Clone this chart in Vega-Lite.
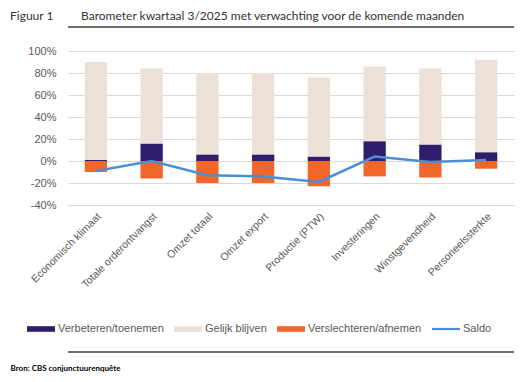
{
  "$schema": "https://vega.github.io/schema/vega-lite/v6.json",
  "autosize": "none",
  "width": 446,
  "height": 154,
  "padding": {"left": 68, "top": 51, "right": 18, "bottom": 177},
  "background": "white",
  "title": {
    "text": "Figuur 1\u00a0\u00a0\u00a0\u00a0\u00a0\u00a0\u00a0\u00a0\u00a0Barometer kwartaal 3/2025 met verwachting voor de komende maanden",
    "anchor": "start",
    "frame": "group",
    "dx": -58,
    "offset": 3,
    "font": "Lato",
    "fontSize": 12,
    "fontWeight": "normal",
    "color": "#333333"
  },
  "config": {
    "view": {"stroke": null},
    "axis": {"labelFont": "Liberation Sans", "labelColor": "#595959", "gridColor": "#d9d9d9", "domain": false, "ticks": false, "tickSize": 0}
  },
  "data": {
    "values": [
      {"cat": "Economisch klimaat", "serie": "Verbeteren/toenemen", "value": 1},
      {"cat": "Economisch klimaat", "serie": "Gelijk blijven", "value": 89},
      {"cat": "Economisch klimaat", "serie": "Verslechteren/afnemen", "value": -10},
      {"cat": "Economisch klimaat", "serie": "Saldo", "value": -9},
      {"cat": "Totale orderontvangst", "serie": "Verbeteren/toenemen", "value": 16},
      {"cat": "Totale orderontvangst", "serie": "Gelijk blijven", "value": 68},
      {"cat": "Totale orderontvangst", "serie": "Verslechteren/afnemen", "value": -16},
      {"cat": "Totale orderontvangst", "serie": "Saldo", "value": 0},
      {"cat": "Omzet totaal", "serie": "Verbeteren/toenemen", "value": 6},
      {"cat": "Omzet totaal", "serie": "Gelijk blijven", "value": 74},
      {"cat": "Omzet totaal", "serie": "Verslechteren/afnemen", "value": -20},
      {"cat": "Omzet totaal", "serie": "Saldo", "value": -13},
      {"cat": "Omzet export", "serie": "Verbeteren/toenemen", "value": 6},
      {"cat": "Omzet export", "serie": "Gelijk blijven", "value": 74},
      {"cat": "Omzet export", "serie": "Verslechteren/afnemen", "value": -20},
      {"cat": "Omzet export", "serie": "Saldo", "value": -14},
      {"cat": "Productie (PTW)", "serie": "Verbeteren/toenemen", "value": 4},
      {"cat": "Productie (PTW)", "serie": "Gelijk blijven", "value": 72},
      {"cat": "Productie (PTW)", "serie": "Verslechteren/afnemen", "value": -23},
      {"cat": "Productie (PTW)", "serie": "Saldo", "value": -19},
      {"cat": "Investeringen", "serie": "Verbeteren/toenemen", "value": 18},
      {"cat": "Investeringen", "serie": "Gelijk blijven", "value": 68},
      {"cat": "Investeringen", "serie": "Verslechteren/afnemen", "value": -14},
      {"cat": "Investeringen", "serie": "Saldo", "value": 4},
      {"cat": "Winstgevendheid", "serie": "Verbeteren/toenemen", "value": 15},
      {"cat": "Winstgevendheid", "serie": "Gelijk blijven", "value": 69},
      {"cat": "Winstgevendheid", "serie": "Verslechteren/afnemen", "value": -15},
      {"cat": "Winstgevendheid", "serie": "Saldo", "value": -1},
      {"cat": "Personeelssterkte", "serie": "Verbeteren/toenemen", "value": 8},
      {"cat": "Personeelssterkte", "serie": "Gelijk blijven", "value": 84},
      {"cat": "Personeelssterkte", "serie": "Verslechteren/afnemen", "value": -7},
      {"cat": "Personeelssterkte", "serie": "Saldo", "value": 1}
    ]
  },
  "layer": [
    {
      "transform": [{"filter": "datum.serie !== 'Saldo'"}],
      "mark": {"type": "bar"},
      "encoding": {
        "x": {
          "field": "cat",
          "type": "nominal",
          "sort": null,
          "scale": {"paddingInner": 0.6, "paddingOuter": 0.3},
          "axis": {
            "labelAngle": -45,
            "labelFontSize": 10.5,
            "labelPadding": 6,
            "grid": false,
            "title": "Bron: CBS conjunctuurenquête",
            "titleFont": "Lato",
            "titleFontSize": 8,
            "titleFontWeight": "bold",
            "titleColor": "#000000",
            "titleAnchor": "start",
            "titleAlign": "left",
            "titleBaseline": "middle",
            "titleX": -58,
            "titleY": 163
          }
        },
        "y": {
          "field": "value",
          "type": "quantitative",
          "stack": "zero",
          "scale": {"domain": [-40, 100], "nice": false, "zero": false},
          "axis": {"values": [-40, -20, 0, 20, 40, 60, 80, 100], "labelExpr": "datum.value + '%'", "labelFontSize": 11, "labelPadding": 12, "labelOverlap": false, "title": null, "grid": true}
        },
        "order": {"field": "serie", "sort": "descending"},
        "color": {
          "field": "serie",
          "type": "nominal",
          "scale": {
            "domain": ["Verbeteren/toenemen", "Gelijk blijven", "Verslechteren/afnemen", "Saldo"],
            "range": ["#2f1c6a", "#ede0d9", "#f1662a", "#4a8ed6"]
          },
          "legend": {
            "title": null,
            "orient": "none",
            "direction": "horizontal",
            "legendX": -41,
            "legendY": 264,
            "symbolSize": 784,
            "symbolStrokeWidth": 0,
            "labelFont": "Liberation Sans",
            "labelFontSize": 11,
            "labelColor": "#595959",
            "labelOffset": 3,
            "columnPadding": 10,
            "encode": {
              "symbols": {
                "update": {
                  "shape": {"signal": "datum.value === 'Saldo' ? 'M-1,-0.08h2v0.16h-2z' : 'M-1,-0.2h2v0.4h-2z'"},
                  "fill": {"scale": "color", "field": "value"},
                  "stroke": {"value": "transparent"},
                  "opacity": {"value": 1}
                }
              }
            }
          }
        }
      }
    },
    {
      "transform": [{"filter": "datum.serie === 'Saldo'"}],
      "mark": {"type": "line", "strokeWidth": 2.5},
      "encoding": {
        "x": {"field": "cat", "type": "nominal", "sort": null},
        "y": {
          "field": "value",
          "type": "quantitative",
          "axis": {"values": [-40, -20, 0, 20, 40, 60, 80, 100], "labelExpr": "datum.value + '%'", "labelFontSize": 11, "labelPadding": 12, "labelOverlap": false, "title": null, "grid": true}
        },
        "color": {"field": "serie", "type": "nominal"}
      }
    },
    {
      "data": {"values": [{"pos": 121.8}, {"pos": -173.6}]},
      "mark": {"type": "rule", "stroke": "#404040", "strokeWidth": 1.5, "clip": false},
      "encoding": {
        "y": {
          "field": "pos",
          "type": "quantitative",
          "axis": {"values": [-40, -20, 0, 20, 40, 60, 80, 100], "labelExpr": "datum.value + '%'", "labelFontSize": 11, "labelPadding": 12, "labelOverlap": false, "title": null, "grid": true}
        }
      }
    }
  ]
}
